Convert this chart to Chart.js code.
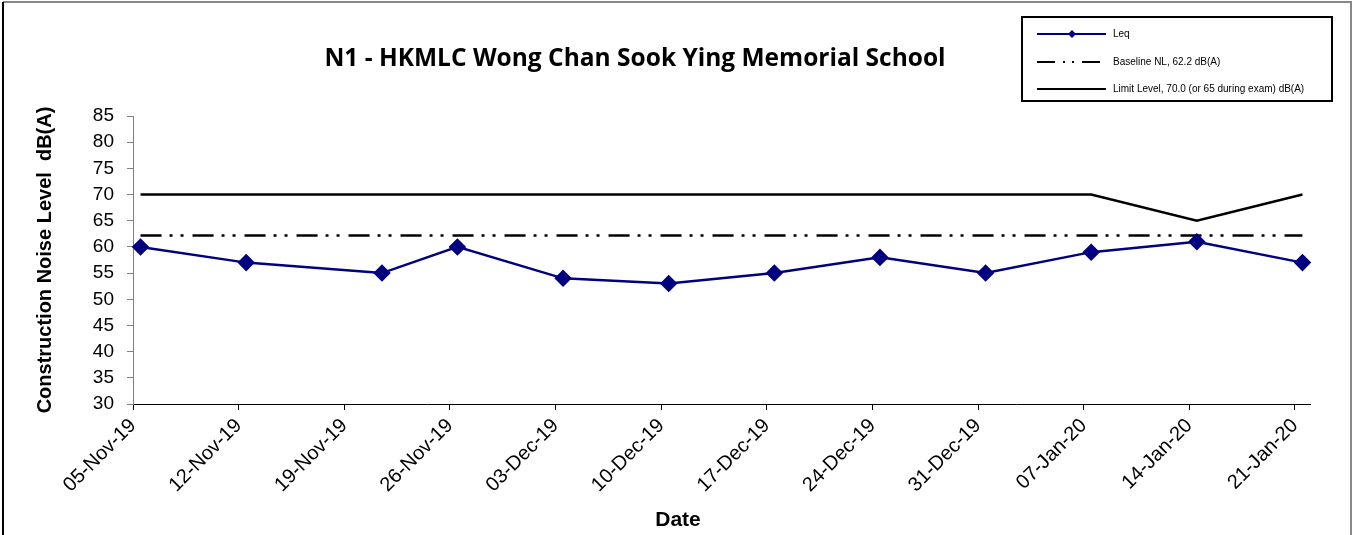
<!DOCTYPE html>
<html>
<head>
<meta charset="utf-8">
<script src="https://cdn.jsdelivr.net/npm/chart.js@4.4.0/dist/chart.umd.min.js"></script>
<style>
  body { margin: 0; background: #fff; }
</style>
</head>
<body>
<canvas id="noiseChart" width="1354" height="535"></canvas>
<script>
// chart data
const chartTitle = 'N1 - HKMLC Wong Chan Sook Ying Memorial School';
const xTitle = 'Date';
const axisStart = '2019-11-05';
const tickLabels = ['05-Nov-19', '12-Nov-19', '19-Nov-19', '26-Nov-19', '03-Dec-19', '10-Dec-19',
    '17-Dec-19', '24-Dec-19', '31-Dec-19', '07-Jan-20', '14-Jan-20', '21-Jan-20'];
const measureDates = ['2019-11-05', '2019-11-12', '2019-11-21', '2019-11-26', '2019-12-03', '2019-12-10',
    '2019-12-17', '2019-12-24', '2019-12-31', '2020-01-07', '2020-01-14', '2020-01-21'];
const leqValues = [60, 57, 55, 60, 54, 53, 55, 58, 55, 59, 61, 57];
const baselineValues = [62.2, 62.2, 62.2, 62.2, 62.2, 62.2, 62.2, 62.2, 62.2, 62.2, 62.2, 62.2];
const limitValues = [70, 70, 70, 70, 70, 70, 70, 70, 70, 70, 65, 70];

const DAY = 86400000;
const daysFrom = (d) => (Date.parse(d) - Date.parse(axisStart)) / DAY;

// Excel date axis puts each point in the middle of its day
const toPoints = (values) => measureDates.map((d, i) => ({ x: daysFrom(d) + 0.5, y: values[i] }));

Chart.defaults.font.family = "'Liberation Sans', Arial, sans-serif";
Chart.defaults.color = '#000';

// frame, titles and the boxed legend like the Excel sheet
const excelDecor = {
    id: 'excelDecor',
    beforeDraw(chart) {
        const ctx = chart.ctx;
        ctx.save();
        ctx.fillStyle = '#fff';
        ctx.fillRect(0, 0, chart.width, chart.height);
        ctx.lineWidth = 2;
        ctx.strokeStyle = '#888';
        ctx.beginPath();
        ctx.moveTo(3, 2);
        ctx.lineTo(1351, 2);
        ctx.lineTo(1351, chart.height);
        ctx.stroke();
        ctx.strokeStyle = '#000';
        ctx.beginPath();
        ctx.moveTo(3, 2);
        ctx.lineTo(3, chart.height);
        ctx.stroke();

        ctx.fillStyle = '#000';
        ctx.font = "bold 24.5px 'Open Sans', sans-serif";
        ctx.textAlign = 'center';
        ctx.textBaseline = 'middle';
        ctx.fillText(chartTitle, 635, 59);

        // x axis title sits left of the plot centre in the original
        ctx.font = "bold 21px 'Liberation Sans', Arial, sans-serif";
        ctx.fillText(xTitle, 678, 520);
        ctx.restore();
    },
    afterDraw(chart) {
        const ctx = chart.ctx;
        ctx.save();
        ctx.fillStyle = '#fff';
        ctx.fillRect(1022, 17, 310, 84);
        ctx.lineWidth = 2;
        ctx.strokeStyle = '#000';
        ctx.strokeRect(1022, 17, 310, 84);

        const rows = [34, 62, 89];
        chart.data.datasets.forEach((ds, i) => {
            const y = rows[i];
            ctx.strokeStyle = ds.borderColor;
            ctx.lineWidth = 2;
            ctx.setLineDash(ds.legendDash || []);
            ctx.beginPath();
            ctx.moveTo(1037, y);
            ctx.lineTo(1106, y);
            ctx.stroke();
            ctx.setLineDash([]);
            if (ds.pointRadius > 0) {
                ctx.fillStyle = ds.pointBackgroundColor;
                ctx.beginPath();
                ctx.moveTo(1072, y - 4);
                ctx.lineTo(1076, y);
                ctx.lineTo(1072, y + 4);
                ctx.lineTo(1068, y);
                ctx.closePath();
                ctx.fill();
            }
            ctx.fillStyle = '#000';
            ctx.font = "10px 'Liberation Sans', Arial, sans-serif";
            ctx.textAlign = 'left';
            ctx.textBaseline = 'middle';
            ctx.fillText(ds.label, 1113, y);
        });
        ctx.restore();
    }
};

const ctx = document.getElementById('noiseChart').getContext('2d');

new Chart(ctx, {
    type: 'line',
    data: {
        datasets: [
            {
                label: 'Leq',
                data: toPoints(leqValues),
                borderColor: '#000080',
                borderWidth: 2.5,
                pointStyle: 'rectRot',
                pointRadius: 7,
                pointHoverRadius: 7,
                pointBackgroundColor: '#000080',
                pointBorderColor: '#000080',
                tension: 0,
                clip: false,
                order: 0,
            },
            {
                label: 'Baseline NL, 62.2 dB(A)',
                data: toPoints(baselineValues),
                borderColor: '#000',
                borderWidth: 2.5,
                borderDash: [21, 8, 3, 8, 3, 9],
                legendDash: [18, 8, 2, 7, 2, 8],
                pointRadius: 0,
                tension: 0,
                clip: false,
                order: 1,
            },
            {
                label: 'Limit Level, 70.0 (or 65 during exam) dB(A)',
                data: toPoints(limitValues),
                borderColor: '#000',
                borderWidth: 2.5,
                pointRadius: 0,
                tension: 0,
                clip: false,
                order: 2,
            },
        ],
    },
    options: {
        responsive: false,
        animation: false,
        layout: {
            padding: { top: 116, left: 29, right: 44, bottom: 0 },
        },
        plugins: {
            legend: { display: false },
            title: { display: false },
            tooltip: { enabled: false },
        },
        scales: {
            x: {
                type: 'linear',
                min: 0,
                max: 78,
                afterBuildTicks: (scale) => {
                    scale.ticks = tickLabels.map((_, i) => ({ value: i * 7 }));
                },
                afterFit: (scale) => { scale.height = 131; },
                ticks: {
                    autoSkip: false,
                    minRotation: 45,
                    maxRotation: 45,
                    font: { size: 20 },
                    padding: 4,
                    callback: (value) => tickLabels[Math.round(value / 7)],
                },
                grid: { drawOnChartArea: false, color: '#000', tickLength: 6 },
                border: { color: '#000', width: 1 },
            },
            y: {
                min: 30,
                max: 85,
                afterFit: (scale) => { scale.width = 104; },
                ticks: {
                    stepSize: 5,
                    font: { size: 19 },
                    padding: 13,
                },
                grid: { drawOnChartArea: false, color: '#808080', tickLength: 6 },
                border: { color: '#808080', width: 1 },
                title: {
                    display: true,
                    text: 'Construction Noise Level  dB(A)',
                    font: { size: 20, weight: 'bold' },
                    padding: { top: 4, bottom: 4 },
                },
            },
        },
    },
    plugins: [excelDecor],
});
</script>
</body>
</html>
